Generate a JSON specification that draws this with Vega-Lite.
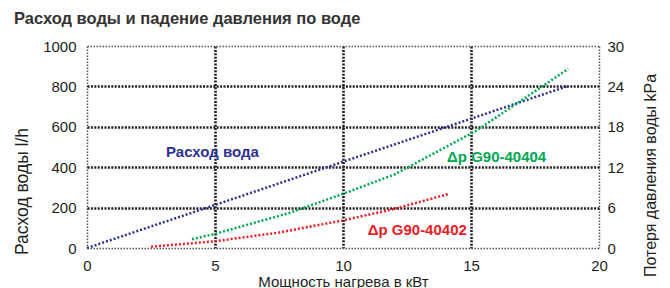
{
  "$schema": "https://vega.github.io/schema/vega-lite/v6.json",
  "autosize": "none",
  "width": 512,
  "height": 202,
  "padding": {"left": 87, "top": 46, "right": 71, "bottom": 40},
  "config": {
    "font": "Liberation Sans",
    "view": {"stroke": null},
    "axis": {"labelFont": "Liberation Sans", "titleFont": "Liberation Sans", "labelColor": "#231f20", "titleColor": "#231f20", "labelFontSize": 15, "titleFontSize": 15, "titleFontWeight": "normal", "domain": false, "ticks": false, "labelFlush": false, "format": "d"}
  },
  "title": {"text": "Расход воды и падение давления по воде", "anchor": "start", "frame": "group", "dx": -73, "fontSize": 16.5, "fontWeight": "bold", "color": "#333333", "font": "Liberation Sans", "baseline": "alphabetic", "offset": -1},
  "layer": [
    {
      "encoding": {
        "x": {"field": "x", "type": "quantitative", "scale": {"domain": [0, 20], "nice": false},
          "axis": {"values": [0, 5, 10, 15, 20], "title": "Мощность нагрева в кВт", "labelPadding": 10, "titleY": 38, "titleBaseline": "alphabetic", "grid": true,
            "gridColor": {"condition": {"test": "datum.value === 0 || datum.value === 20", "value": "#555555"}, "value": "#231f20"},
            "gridWidth": {"condition": {"test": "datum.value === 0 || datum.value === 20", "value": 1.5}, "value": 2.6},
            "gridDash": {"condition": {"test": "datum.value === 0 || datum.value === 20", "value": [1.5, 1.5]}, "value": [2, 1.4]}}},
        "y": {"field": "y", "type": "quantitative", "scale": {"domain": [0, 1000], "nice": false},
          "axis": {"orient": "left", "values": [0, 200, 400, 600, 800, 1000], "title": "Расход воды l/h", "titleFontSize": 17.5, "titleX": -65, "titleY": 145, "titleBaseline": "middle", "titleAngle": 270, "labelPadding": 11, "grid": true,
            "gridColor": {"condition": {"test": "datum.value === 0 || datum.value === 1000", "value": "#555555"}, "value": "#231f20"},
            "gridWidth": {"condition": {"test": "datum.value === 0 || datum.value === 1000", "value": 1.5}, "value": 2.6},
            "gridDash": {"condition": {"test": "datum.value === 0 || datum.value === 1000", "value": [1.5, 1.5]}, "value": [2, 1.4]}}}
      },
      "layer": [
        {
          "data": {"values": [
            {"x": 0, "y": 0}, {"x": 5, "y": 213}, {"x": 10, "y": 427}, {"x": 15, "y": 640}, {"x": 18.75, "y": 800}
          ]},
          "mark": {"type": "line", "color": "#2e3192", "strokeWidth": 2.5, "strokeDash": [2, 2], "strokeCap": "butt"}
        },
        {
          "data": {"values": [{"x": 4.9, "y": 475, "label": "Расход вода"}]},
          "mark": {"type": "text", "color": "#2e3192", "fontSize": 15, "fontWeight": "bold", "font": "Liberation Sans"},
          "encoding": {"text": {"field": "label"}}
        }
      ]
    },
    {
      "encoding": {
        "x": {"field": "x", "type": "quantitative", "scale": {"domain": [0, 20], "nice": false}},
        "y": {"field": "kpa", "type": "quantitative", "scale": {"domain": [0, 30], "nice": false},
          "axis": {"orient": "right", "values": [0, 6, 12, 18, 24, 30], "title": "Потеря давления воды kPa", "titleFontSize": 16, "titleX": 51, "titleY": 129, "titleBaseline": "middle", "titleAngle": 270, "labelPadding": 8, "grid": false}}
      },
      "layer": [
        {
          "data": {"values": [
            {"x": 4.1, "kpa": 1.3, "series": "G90-40404"}, {"x": 5, "kpa": 2.1, "series": "G90-40404"}, {"x": 7.9, "kpa": 5.2, "series": "G90-40404"}, {"x": 9.9, "kpa": 7.9, "series": "G90-40404"}, {"x": 12, "kpa": 10.9, "series": "G90-40404"}, {"x": 15.2, "kpa": 17.4, "series": "G90-40404"}, {"x": 18.8, "kpa": 26.6, "series": "G90-40404"},
            {"x": 2.5, "kpa": 0.2, "series": "G90-40402"}, {"x": 5, "kpa": 1.0, "series": "G90-40402"}, {"x": 7.5, "kpa": 2.3, "series": "G90-40402"}, {"x": 10, "kpa": 4.1, "series": "G90-40402"}, {"x": 12, "kpa": 5.8, "series": "G90-40402"}, {"x": 14.1, "kpa": 8.0, "series": "G90-40402"}
          ]},
          "mark": {"type": "line", "strokeWidth": 2.5, "strokeDash": [2, 2], "strokeCap": "butt"},
          "encoding": {"color": {"field": "series", "type": "nominal", "scale": {"domain": ["G90-40404", "G90-40402"], "range": ["#00a651", "#ed1c24"]}, "legend": null}}
        },
        {
          "data": {"values": [
            {"x": 16.0, "kpa": 13.5, "label": "Δp G90-40404", "series": "G90-40404"},
            {"x": 12.9, "kpa": 2.7, "label": "Δp G90-40402", "series": "G90-40402"}
          ]},
          "mark": {"type": "text", "fontSize": 15, "fontWeight": "bold", "font": "Liberation Sans"},
          "encoding": {"text": {"field": "label"}, "color": {"field": "series", "type": "nominal", "scale": {"domain": ["G90-40404", "G90-40402"], "range": ["#00a651", "#ed1c24"]}, "legend": null}}
        }
      ]
    }
  ],
  "resolve": {"scale": {"y": "independent"}}
}
